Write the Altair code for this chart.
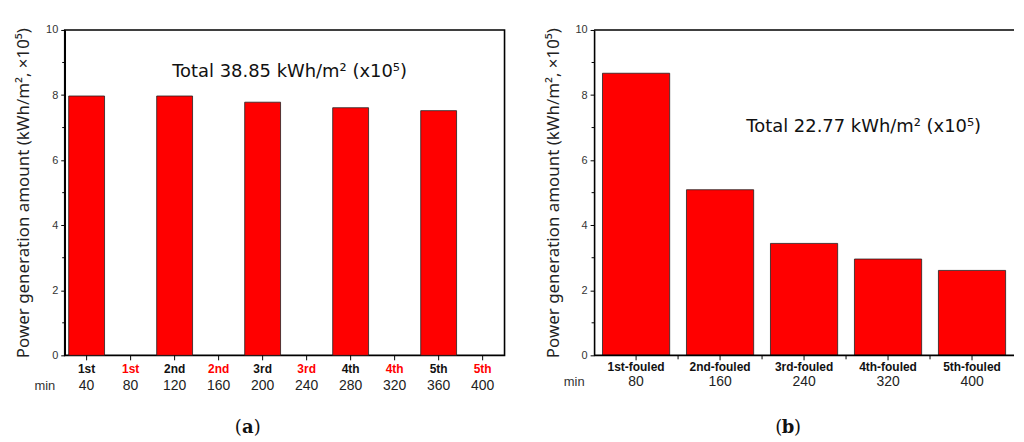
import altair as alt
import pandas as pd

# ---- data ----
sessions = ["1st", "2nd", "3rd", "4th", "5th"]
fouled_labels = ["1st-fouled", "2nd-fouled", "3rd-fouled", "4th-fouled", "5th-fouled"]
clean_minutes = [40, 120, 200, 280, 360]
fouled_minutes = [80, 160, 240, 320, 400]
clean_values = [7.97, 7.97, 7.78, 7.61, 7.52]
fouled_values = [8.67, 5.09, 3.44, 2.96, 2.61]
y_ticks = [0, 2, 4, 6, 8, 10]
y_minor = [1, 3, 5, 7, 9]
total_a = "Total 38.85 kWh/m\u00b2 (x10\u2075)"
total_b = "Total 22.77 kWh/m\u00b2 (x10\u2075)"
y_title = "Power generation amount (kWh/m\u00b2, \u00d710\u2075)"

# panel a table: clean bars and empty fouled slots interleaved
rows_a = []
for s, cm, fm, v in zip(sessions, clean_minutes, fouled_minutes, clean_values):
    rows_a.append({"minute": cm, "label": s, "color": "#111111", "value": v})
    rows_a.append({"minute": fm, "label": s, "color": "#ff0000", "value": None})
df_a = pd.DataFrame(rows_a)
df_b = pd.DataFrame({"minute": fouled_minutes, "label": fouled_labels,
                     "color": ["#111111"] * 5, "value": fouled_values})
df_minor = pd.DataFrame({"v": y_minor})

H = 327
WA = 442
WB = 422
FONT = "Noto Sans"
LFONT = "Liberation Sans"


def panel(df, width, order, p_inner, p_outer, total_text, total_x, total_y,
          tag, tag_x, name_dy, min_dy, open_right):
    xs = alt.Scale(domain=order, paddingInner=p_inner, paddingOuter=p_outer)
    ys = alt.Scale(domain=[0, 10], nice=False)
    base = alt.Chart(df)
    x = alt.X("minute:O", scale=xs, axis=None)
    bars = base.mark_bar(color="#ff0000", stroke="#222222", strokeWidth=0.8).encode(
        x=x,
        y=alt.Y("value:Q", scale=ys,
                axis=alt.Axis(values=y_ticks, tickSize=4, tickWidth=1, tickColor="black",
                              domainColor="black", domainWidth=1.6, grid=False,
                              labelFont=LFONT, labelFontSize=11, labelColor="#333333",
                              labelPadding=3, title=y_title, titleFont=FONT,
                              titleFontSize=17, titleFontWeight="normal",
                              titleColor="#222222", titlePadding=13)),
    )
    xticks = base.mark_rule(color="black", strokeWidth=1).encode(
        x=x, y=alt.value(H), y2=alt.value(H + 5))
    names = base.mark_text(font=LFONT, fontSize=12, fontWeight="bold",
                           baseline="middle").encode(
        x=x, y=alt.value(H + name_dy), text="label:N",
        color=alt.Color("color:N", scale=None))
    mins = base.mark_text(font=LFONT, fontSize=14, color="#222222",
                          baseline="middle").encode(
        x=x, y=alt.value(H + min_dy), text="minute:N")
    minlab = alt.Chart(pd.DataFrame({"t": ["min"]})).mark_text(
        font=LFONT, fontSize=13, color="#333333", baseline="middle", align="center").encode(
        x=alt.value(-20), y=alt.value(H + min_dy), text="t:N")
    minor = alt.Chart(df_minor).mark_rule(color="black", strokeWidth=1).encode(
        x=alt.value(-2.5), x2=alt.value(0), y=alt.Y("v:Q", scale=ys))
    total = alt.Chart(pd.DataFrame({"t": [total_text]})).mark_text(
        font="DejaVu Sans", fontSize=18, color="#111111", align="left",
        baseline="middle").encode(
        x=alt.value(total_x), y=alt.value(total_y), text="t:N")
    tags = alt.Chart(pd.DataFrame({"t": ["(", tag, ")"],
                                   "k": ["l", "m", "r"]}))
    ty = H + 73
    tag_l = tags.transform_filter("datum.k == 'l'").mark_text(
        font="DejaVu Serif", fontSize=18, color="#111111", align="right",
        baseline="middle").encode(x=alt.value(tag_x - 6), y=alt.value(ty), text="t:N")
    tag_m = tags.transform_filter("datum.k == 'm'").mark_text(
        font="DejaVu Serif", fontSize=18, fontWeight="bold", color="#111111", align="center",
        baseline="middle").encode(x=alt.value(tag_x), y=alt.value(ty), text="t:N")
    tag_r = tags.transform_filter("datum.k == 'r'").mark_text(
        font="DejaVu Serif", fontSize=18, color="#111111", align="left",
        baseline="middle").encode(x=alt.value(tag_x + 6), y=alt.value(ty), text="t:N")
    layers = [bars, xticks, names, mins, minlab, minor, total, tag_l, tag_m, tag_r]
    if open_right:
        step = width / (len(order) - p_inner + 2 * p_outer)
        bdf = df.iloc[:-1]
        btick = alt.Chart(bdf).mark_rule(color="black", strokeWidth=1,
                                         xOffset=step / 2).encode(
            x=x, y=alt.value(H), y2=alt.value(H + 4))
        frame = alt.Chart(pd.DataFrame({"e": [0, H]})).mark_rule(
            color="black", strokeWidth=1.6).encode(
            x=alt.value(0), x2=alt.value(width), y=alt.Y("e:Q", scale=None))
        layers += [btick, frame]
    ch = alt.layer(*layers).properties(width=width, height=H)
    if open_right:
        ch = ch.properties(view=alt.ViewBackground(stroke="transparent"))
    else:
        ch = ch.properties(view=alt.ViewBackground(stroke="black", strokeWidth=1.6))
    return ch


order_a = sorted(clean_minutes + fouled_minutes)
pa = panel(df_a, WA, order_a, 0.185, 0.09, total_a, 108, 42, "a", 184, 14, 31, False)
pb = panel(df_b, WB, fouled_minutes, 0.2, 0.1, total_b, 153, 98, "b", 195, 12, 27, True)

chart = alt.hconcat(pa, pb, spacing=38).properties(
    padding={"left": 5, "top": 14, "right": 0, "bottom": 0}
).configure_view(stroke="black", strokeWidth=1.6).configure(background="white")

chart.save("out.html", embed_options={"renderer": "svg", "actions": False})
